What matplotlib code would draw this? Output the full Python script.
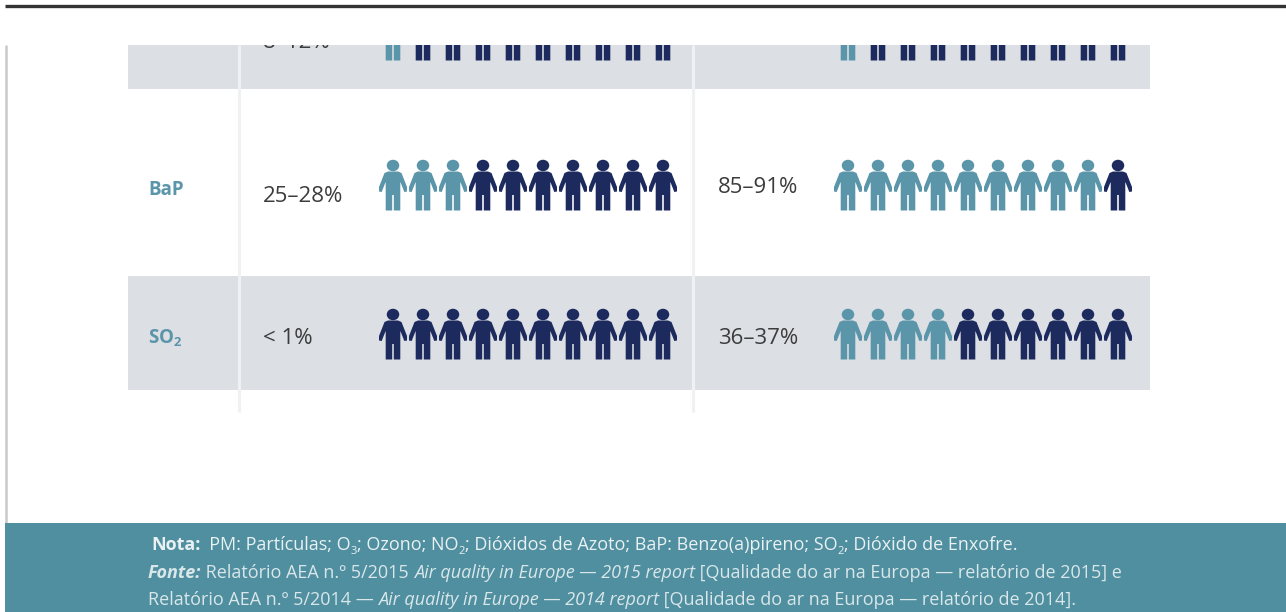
import numpy as np
import matplotlib
matplotlib.use('Agg')
import matplotlib.pyplot as plt
from matplotlib.patches import Rectangle, Polygon, Ellipse

plt.rcParams['font.family'] = ['Open Sans', 'DejaVu Sans']
plt.rcParams['mathtext.fontset'] = 'custom'
plt.rcParams['mathtext.rm'] = 'Open Sans:bold'
plt.rcParams['mathtext.default'] = 'rm'

# Dados da tabela (a primeira linha esta cortada na imagem)
poluentes = ['', 'BaP', r'SO$_2$']
pct_ue = ['8–12%', '25–28%', '< 1%']
pct_oms = ['', '85–91%', '36–37%']
claros_ue = [1, 3, 0]
claros_oms = [1, 9, 4]
total_icones = 10

nota = [('Nota:', 'bold', 'normal', False), ('  PM: Partículas; O', 'normal', 'normal', False), ('3', 'normal', 'normal', True),
        ('; Ozono; NO', 'normal', 'normal', False), ('2', 'normal', 'normal', True),
        ('; Dióxidos de Azoto; BaP: Benzo(a)pireno; SO', 'normal', 'normal', False), ('2', 'normal', 'normal', True),
        ('; Dióxido de Enxofre.', 'normal', 'normal', False)]
fonte1 = [('Fonte:', 'bold', 'italic', False), (' Relatório AEA n.º 5/2015 ', 'normal', 'normal', False),
          ('Air quality in Europe — 2015 report', 'normal', 'italic', False),
          (' [Qualidade do ar na Europa — relatório de 2015] e', 'normal', 'normal', False)]
fonte2 = [('Relatório AEA n.º 5/2014 — ', 'normal', 'normal', False),
          ('Air quality in Europe — 2014 report', 'normal', 'italic', False),
          (' [Qualidade do ar na Europa — relatório de 2014].', 'normal', 'normal', False)]

CLARO = '#5b95aa'
ESCURO = '#1c2a5e'
BANDA = '#dcdfe3'
TEAL = '#4f8f9f'
TEXTO = '#3c3c3c'

fig = plt.figure(figsize=(12.86, 6.12), dpi=100)
ax = fig.add_axes([0, 0, 1, 1])
ax.set_xlim(0, 1286)
ax.set_ylim(612, 0)
ax.axis('off')

# forma de uma pessoa, em pixeis a partir do topo da cabeca
meia = [(0, 11.5), (5, 11.5), (8.5, 13), (14, 27), (14, 31.5), (11.3, 32), (7.6, 22.5),
        (7.3, 22.5), (7.3, 50.5), (0.8, 50.5), (0.8, 35), (0, 35)]
meia = np.array(meia, dtype=float)
corpo = np.vstack([meia, (meia * [-1, 1])[::-1]])


def pessoa(x, y, cor):
    ax.add_patch(Polygon(corpo + [x, y], closed=True, fc=cor, ec='none', zorder=3))
    ax.add_patch(Ellipse((x, y + 5.5), 12.5, 11.5, fc=cor, ec='none', zorder=3))


def escreve_linha(partes, x, y, tam, cor):
    # escreve os pedacos um a seguir ao outro, medindo cada um
    r = fig.canvas.get_renderer()
    inv = ax.transData.inverted()
    for txt, peso, estilo, sub in partes:
        t = ax.text(x, y + (4 if sub else 0), txt, fontsize=tam * (0.62 if sub else 1), fontweight=peso,
                    fontstyle=estilo, color=cor, va='baseline', ha='left', zorder=6)
        bb = t.get_window_extent(r)
        x += inv.transform((bb.x1, 0))[0] - inv.transform((bb.x0, 0))[0]


# bandas e separadores
ax.add_patch(Rectangle((128, 30), 1022, 59, fc=BANDA, ec='none', zorder=1))
ax.add_patch(Rectangle((128, 276), 1022, 114, fc=BANDA, ec='none', zorder=1))
for xs in [239, 693]:
    ax.plot([xs, xs], [45, 412], color='#eff1f3', lw=2.2, zorder=2, solid_capstyle='butt')

topos = [10, 160, 309]
y_pct_ue = [48, 202, 344]
y_pct_oms = [48, 193, 344]
for i, nome in enumerate(poluentes):
    ax.text(148, topos[i] + 35, nome, fontsize=13.5, fontweight='bold', color=CLARO, va='baseline', zorder=4)
    ax.text(263, y_pct_ue[i], pct_ue[i], fontsize=16, color=TEXTO, va='baseline', zorder=4)
    ax.text(718, y_pct_oms[i], pct_oms[i], fontsize=16, color=TEXTO, va='baseline', zorder=4)
    for k in range(total_icones):
        pessoa(393 + 30 * k, topos[i], CLARO if k < claros_ue[i] else ESCURO)
        pessoa(848 + 30 * k, topos[i], CLARO if k < claros_oms[i] else ESCURO)

# tapa o que fica acima do recorte
ax.add_patch(Rectangle((0, 0), 1286, 45, fc='white', ec='none', zorder=5))
ax.plot([5, 1286], [5.5, 5.5], color='#333333', lw=2.4, zorder=6, solid_capstyle='butt')
ax.plot([5.5, 5.5], [45, 523], color='#c9c9c9', lw=1.8, zorder=2, solid_capstyle='butt')

# rodape
ax.add_patch(Rectangle((5, 523), 1281, 89, fc=TEAL, ec='none', zorder=5))
escreve_linha(nota, 151, 550, 13, '#e9f1f3')
escreve_linha(fonte1, 148, 578, 13, '#d9e7ea')
escreve_linha(fonte2, 148, 605, 13, '#d9e7ea')

fig.savefig('out.png', dpi=100)
